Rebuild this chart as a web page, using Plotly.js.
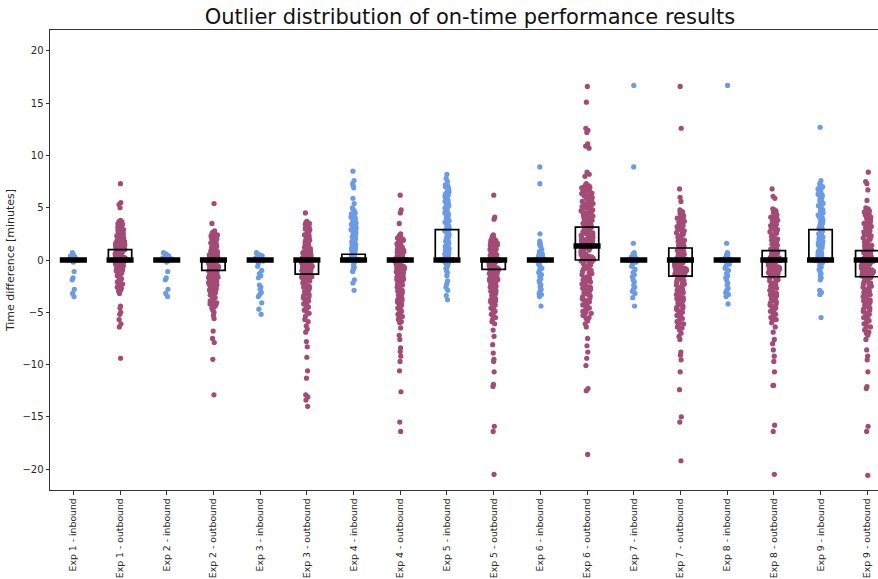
<!DOCTYPE html>
<html>
<head>
<meta charset="utf-8">
<script src="https://cdn.plot.ly/plotly-3.0.1.min.js"></script>
<style>
  html, body { margin: 0; padding: 0; background: #ffffff; overflow: hidden; }
  #chart { width: 878px; height: 579px; }
</style>
</head>
<body>
<div id="chart"></div>
<script>
// Experiment / direction categories along the x axis
const categories = [
  'Exp 1 - inbound', 'Exp 1 - outbound', 'Exp 2 - inbound', 'Exp 2 - outbound',
  'Exp 3 - inbound', 'Exp 3 - outbound', 'Exp 4 - inbound', 'Exp 4 - outbound',
  'Exp 5 - inbound', 'Exp 5 - outbound', 'Exp 6 - inbound', 'Exp 6 - outbound',
  'Exp 7 - inbound', 'Exp 7 - outbound', 'Exp 8 - inbound', 'Exp 8 - outbound',
  'Exp 9 - inbound', 'Exp 9 - outbound'
];

// Time differences (minutes) per category
const exp1In = [0.7, 0.5, 0.4, 0.4, 0.3, 0.3, 0.2, 0.2, 0.1, 0.1, 0, 0, 0, 0, 0, 0, 0, 0, -0.1, -0.2, -1.1, -1.7, -1.9, -2.8, -3.2, -3.5];
const exp1Out = [7.3, 5.5, 5.3, 5.0, 3.8, 3.7, 3.5, 3.4, 3.3, 3.1, 3.0, 2.9, 2.8, 2.7, 2.6, 2.5, 2.5, 2.4, 2.3, 2.2, 2.2, 2.1, 2.0, 1.9, 1.9, 1.8, 1.7, 1.6, 1.6, 1.5, 1.4, 1.3, 1.3, 1.2, 1.1, 1.0, 1.0, 0.9, 0.8, 0.8, 0.7, 0.6, 0.5, 0.5, 0.4, 0.3, 0.2, 0.2, 0.1, 0, 0, 0, 0, 0, 0, 0, 0, 0, 0, 0, 0, 0, 0, 0, 0, 0, 0, 0, 0, -0.1, -0.2, -0.3, -0.3, -0.4, -0.5, -0.6, -0.7, -0.8, -0.9, -1.0, -1.1, -1.2, -1.4, -1.5, -1.7, -1.8, -2.0, -2.1, -2.3, -2.6, -2.8, -3.0, -3.2, -4.4, -4.6, -5.0, -5.2, -5.7, -6.1, -6.4, -9.4,
  3.65, 3.45, 3.25, 3.05, 2.85, 2.65, 2.45, 2.35, 2.25, 2.15, 2.05, 1.95, 1.85, 1.75, 1.65, 1.55, 1.45, 1.35, 1.25, 1.15, 1.05, 0.95, 0.85, 0.75, 0.65, 0.55, 0.45, 0.35, 0.25, 0.15, 0.05, -0.05, -0.15, -0.25, -0.35, -0.45, -0.55, -0.65, -0.75, -0.85, -0.95, -1.05, -1.25, -1.35, -1.65, -1.95, -2.25, -2.45, -2.7, -2.9];
const exp2In = [0.7, 0.6, 0.5, 0.4, 0.3, 0.3, 0.2, 0.1, 0.1, 0, 0, 0, 0, 0, 0, 0, -0.1, -0.2, -1.1, -1.7, -1.9, -2.8, -3.2, -3.5];
const exp2Out = [5.4, 3.5, 2.8, 2.7, 2.6, 2.5, 2.4, 2.3, 2.2, 2.1, 2.0, 1.9, 1.8, 1.7, 1.6, 1.5, 1.4, 1.3, 1.2, 1.1, 1.0, 0.9, 0.8, 0.7, 0.6, 0.5, 0.4, 0.3, 0.2, 0.1, 0, 0, 0, 0, 0, 0, 0, 0, 0, 0, 0, 0, 0, 0, -0.1, -0.2, -0.3, -0.4, -0.5, -0.5, -0.6, -0.7, -0.8, -0.9, -1.0, -1.1, -1.2, -1.3, -1.4, -1.5, -1.6, -1.7, -1.8, -1.9, -2.0, -2.1, -2.2, -2.3, -2.4, -2.5, -2.6, -2.7, -2.8, -2.9, -3.0, -3.2, -3.3, -3.5, -3.6, -3.8, -3.9, -4.1, -4.2, -4.4, -4.6, -4.8, -5.0, -5.3, -5.6, -6.8, -7.5, -7.9, -9.5, -12.9,
  2.65, 2.45, 2.25, 2.05, 1.85, 1.65, 1.45, 1.25, 1.05, 0.85, 0.65, 0.45, 0.25, 0.05, -0.05, -0.15, -0.25, -0.35, -0.45, -0.65, -0.75, -0.85, -0.95, -1.05, -1.15, -1.25, -1.35, -1.45, -1.55, -1.65, -1.75, -1.85, -1.95, -2.05, -2.15, -2.25, -2.35, -2.45, -2.55, -2.65, -2.85, -3.05, -3.15, -3.35, -3.55, -3.75, -3.95, -4.15, -4.35, -4.5];
const exp3In = [0.7, 0.6, 0.5, 0.4, 0.3, 0.2, 0.2, 0.1, 0, 0, 0, 0, 0, 0, -0.1, -0.3, -0.6, -1.0, -1.3, -1.5, -1.7, -2.4, -2.6, -2.8, -3.1, -3.3, -3.5, -4.1, -4.7, -5.2];
const exp3Out = [4.5, 3.7, 3.5, 3.3, 3.1, 3.0, 2.8, 2.7, 2.5, 2.4, 2.3, 2.1, 2.0, 1.9, 1.8, 1.6, 1.5, 1.4, 1.3, 1.2, 1.0, 0.9, 0.8, 0.7, 0.6, 0.5, 0.4, 0.3, 0.2, 0.1, 0, 0, 0, 0, 0, 0, 0, 0, 0, 0, 0, 0, -0.1, -0.2, -0.3, -0.4, -0.5, -0.6, -0.7, -0.8, -0.9, -1.0, -1.1, -1.2, -1.3, -1.4, -1.5, -1.6, -1.7, -1.8, -1.9, -2.0, -2.2, -2.3, -2.4, -2.6, -2.7, -2.8, -3.0, -3.1, -3.3, -3.4, -3.6, -3.8, -3.9, -4.1, -4.3, -4.5, -4.7, -4.9, -5.1, -5.4, -5.7, -5.9, -6.3, -6.6, -6.9, -7.8, -8.3, -9.3, -10.6, -11.3, -12.9, -13.1, -13.4, -14.0,
  3.6, 3.4, 3.2, 2.9, 2.6, 2.2, 1.7, 1.1, 0.65, 0.35, 0.15, 0.05, -0.05, -0.15, -0.25, -0.35, -0.45, -0.55, -0.65, -0.75, -0.85, -0.95, -1.05, -1.15, -1.25, -1.35, -1.45, -1.55, -1.65, -1.75, -1.85, -1.95, -2.1, -2.5, -2.9, -3.2, -3.5, -3.7, -4.0, -4.2, -4.4, -4.6, -4.8];
const exp4In = [8.5, 7.6, 7.3, 7.1, 6.9, 5.9, 5.4, 5.0, 4.8, 4.7, 4.5, 4.5, 4.4, 4.3, 4.3, 4.2, 4.1, 4.0, 4.0, 3.9, 3.8, 3.7, 3.7, 3.6, 3.5, 3.4, 3.4, 3.3, 3.2, 3.1, 3.1, 3.0, 2.9, 2.8, 2.8, 2.7, 2.6, 2.5, 2.5, 2.4, 2.3, 2.2, 2.2, 2.1, 2.0, 1.9, 1.8, 1.7, 1.6, 1.5, 1.4, 1.3, 1.2, 1.1, 1.0, 0.9, 0.8, 0.7, 0.6, 0.5, 0.4, 0.3, 0.2, 0.1,
  4.45, 4.15, 3.85, 3.55, 3.25, 2.95, 2.65, 2.35, 2.05, 1.75, 1.45, 1.15, 0.85, 0.55,
  0, 0, 0, 0, 0, 0, 0, 0, 0, 0, 0, 0, 0, 0, 0, 0, 0, 0, 0, 0, 0, 0, 0, 0, 0, 0, 0, 0, 0, 0, 0, 0, 0, 0, 0, 0, 0, 0, 0, 0, 0, 0, 0, 0, 0, 0, 0, 0, 0, 0, 0, 0, 0, 0, 0, 0, 0, 0, 0, 0, 0, 0, 0, 0, 0, 0, 0, 0, 0, 0, 0, 0, 0, 0, 0, 0, 0, 0, 0, 0, 0, 0, 0, 0, 0, 0, 0, 0, 0, 0, 0, 0, 0, 0, 0, 0, 0, 0, 0, 0, 0, 0, 0, 0, 0, 0, 0, 0, 0, 0, 0, 0, 0, 0, 0, 0, 0, 0, 0, 0, 0, 0, 0, 0, 0, 0, 0, 0, 0, 0, 0, 0, 0, 0, 0, 0, 0, 0, 0, 0, 0, 0, 0, 0, 0, 0, 0, 0, 0, 0, 0, 0, 0, 0, 0, 0, 0, 0, 0, 0, 0, 0, 0, 0, 0, 0, 0, 0, 0, 0, 0, 0, 0, 0, 0, 0, 0, 0, 0, 0, 0, 0, 0, 0, 0, 0, 0, 0, 0, 0, 0, 0, 0, 0, 0, 0, 0, 0, 0, 0, 0, 0, 0, 0, 0, 0, 0, 0, 0, 0, 0, 0, 0, 0,
  -0.3, -0.5, -0.7, -0.9, -1.1, -1.9, -2.2, -2.9];
const exp4Out = [6.2, 4.8, 4.5, 3.5, 2.5, 2.3, 2.2, 2.1, 2.0, 1.9, 1.8, 1.7, 1.5, 1.4, 1.3, 1.2, 1.1, 1.0, 0.9, 0.8, 0.7, 0.6, 0.5, 0.4, 0.3, 0.2, 0.1, 0, 0, 0, 0, 0, 0, 0, 0, 0, 0, 0, 0, 0, 0, 0, 0, 0, 0, 0, 0, 0, 0, 0, 0, 0, 0, 0, 0, 0, 0, 0, 0, 0, 0, 0, 0, 0, 0, 0, 0, 0, 0, 0, 0, 0, 0, 0, 0, 0, 0, 0, 0, 0, 0, 0, 0, 0, 0, 0, 0, 0, 0, 0, 0, 0, 0, 0, 0, 0, 0, 0, 0, 0, 0, 0, 0, 0, 0, 0, 0, 0, 0, 0, -0.1, -0.2, -0.3, -0.4, -0.5, -0.6, -0.7, -0.8, -0.9, -1.0, -1.1, -1.2, -1.3, -1.4, -1.5, -1.6, -1.8, -1.9, -2.0, -2.1, -2.3, -2.4, -2.5, -2.7, -2.8, -3.0, -3.1, -3.3, -3.4, -3.6, -3.8, -3.9, -4.1, -4.3, -4.5, -4.7, -4.9, -5.1, -5.3, -5.5, -5.7, -5.9, -6.0, -6.5, -7.2, -7.6, -8.4, -8.75, -9.2, -9.7, -10.6, -12.6, -15.5, -16.4,
  2.35, 2.15, 1.95, 1.75, 1.55, 1.35, 1.15, 0.95, 0.75, 0.55, 0.35, 0.15, -0.05, -0.15, -0.25, -0.35, -0.45, -0.55, -0.65, -0.75, -0.85, -0.95, -1.05, -1.15, -1.25, -1.35, -1.45, -1.55, -1.7, -1.85, -2.05, -2.2, -2.35, -2.6, -2.9, -3.2, -3.5, -3.7, -4.0, -4.2, -4.4, -4.6, -4.8, -5.0, -5.2, -5.4];
const exp5In = [8.2, 7.8, 7.5, 7.2, 7.1, 7.0, 6.8, 6.7, 6.5, 6.4, 6.2, 6.1, 6.0, 5.9, 5.7, 5.6, 5.5, 5.4, 5.2, 5.1, 5.0, 4.9, 4.8, 4.7, 4.5, 4.4, 4.3, 4.2, 4.1, 4.0, 3.9, 3.8, 3.7, 3.6, 3.5, 3.4, 3.3, 3.2, 3.1, 3.0, 2.9, 2.8, 2.7, 2.6, 2.5, 2.4, 2.3, 2.2, 2.1, 2.0, 1.9, 1.8, 1.7, 1.6, 1.5, 1.4, 1.3, 1.2, 1.1, 1.0, 0.9, 0.8, 0.7, 0.6, 0.5, 0.4, 0.3, 0.2, 0.1,
  7.15, 6.9, 6.6, 6.3, 5.8, 5.3, 4.6, 4.15, 3.75, 3.25, 2.75, 2.25, 1.75, 1.25, 0.75, 0.35,
  0, 0, 0, 0, 0, 0, 0, 0, 0, 0, 0, 0, 0, 0, 0, 0, 0, 0, 0, 0, 0, 0, 0, 0, 0, 0, 0, 0, 0, 0, 0, 0, 0, 0, 0, 0, 0, 0, 0, 0, 0, 0, 0, 0, 0, 0, 0, 0, 0, 0, 0, 0, 0, 0, 0, 0, 0, 0, 0, 0, 0, 0, 0, 0, 0, 0, 0, 0, 0, 0, 0, 0, 0, 0, 0, 0, 0, 0, 0, 0, 0, 0, 0, 0, 0, 0, 0, 0, 0, 0, 0, 0, 0, 0, 0, 0, 0, 0, 0, 0, 0, 0, 0, 0, 0, 0, 0, 0, 0, 0, 0, 0, 0, 0, 0, 0, 0, 0, 0, 0, 0, 0, 0, 0, 0, 0, 0, 0, 0, 0, 0, 0, 0, 0, 0, 0, 0, 0, 0, 0, 0, 0, 0, 0, 0, 0, 0, 0, 0, 0, 0, 0, 0, 0, 0, 0, 0, 0, 0, 0, 0, 0, 0, 0, 0, 0, 0, 0, 0, 0, 0, 0, 0, 0, 0, 0, 0, 0, 0, 0, 0, 0, 0, 0, 0, 0, 0, 0, 0, 0, 0, 0, 0, 0, 0, 0, 0, 0, 0, 0, 0, 0, 0, 0, 0, 0, 0, 0, 0, 0, 0, 0, 0,
  -0.1, -0.2, -0.3, -0.4, -0.6, -0.8, -1.0, -1.2, -1.5, -2.0, -2.3, -2.6, -2.9, -3.4, -3.8];
const exp5Out = [6.2, 4.1, 3.9, 2.4, 2.2, 2.1, 2.0, 1.9, 1.8, 1.7, 1.6, 1.5, 1.4, 1.3, 1.2, 1.1, 1.0, 0.9, 0.8, 0.7, 0.6, 0.5, 0.4, 0.3, 0.2, 0.1, 0, 0, 0, 0, 0, 0, 0, 0, 0, 0, 0, 0, 0, 0, 0, 0, 0, 0, 0, 0, 0, 0, 0, 0, 0, 0, 0, 0, 0, 0, 0, 0, 0, 0, 0, 0, 0, 0, 0, 0, 0, 0, 0, 0, 0, 0, 0, 0, 0, 0, 0, 0, 0, 0, 0, 0, 0, 0, 0, 0, 0, 0, 0, 0, 0, 0, 0, 0, 0, 0, -0.1, -0.2, -0.3, -0.4, -0.5, -0.6, -0.7, -0.8, -0.9, -1.0, -1.1, -1.2, -1.3, -1.4, -1.5, -1.6, -1.7, -1.8, -1.9, -2.0, -2.1, -2.2, -2.4, -2.5, -2.6, -2.7, -2.9, -3.0, -3.1, -3.3, -3.4, -3.5, -3.7, -3.8, -4.0, -4.1, -4.3, -4.4, -4.6, -4.8, -4.9, -5.1, -5.3, -5.5, -5.7, -5.9, -6.1, -6.7, -7.3, -8.1, -8.9, -9.5, -9.7, -10.7, -11.9, -12.1, -15.9, -16.4, -20.5,
  2.3, 2.05, 1.85, 1.65, 1.45, 1.25, 1.05, 0.85, 0.65, 0.45, 0.25, 0.05, -0.05, -0.15, -0.25, -0.35, -0.45, -0.55, -0.65, -0.75, -0.85, -0.95, -1.05, -1.15, -1.25, -1.35, -1.45, -1.55, -1.65, -1.75, -1.85, -1.95, -2.05, -2.3, -2.55, -2.8, -3.2, -3.6, -3.9, -4.2, -4.5, -4.7, -5.0, -5.2];
const exp6In = [8.9, 7.3, 2.5, 1.8, 1.6, 1.5, 1.4, 1.3, 1.0, 0.8, 0.6, 0.5, 0.4, 0.3, 0.2, 0.1, 0, 0, 0, 0, 0, 0, 0, 0, 0, 0, 0, 0, 0, 0, 0, 0, 0, 0, 0, 0, 0, 0, 0, 0, 0, 0, 0, 0, 0, 0, 0, 0, 0, 0, 0, 0, 0, 0, 0, 0, 0, 0, 0, 0, 0, 0, 0, 0, 0, 0, -0.2, -0.4, -0.6, -0.8, -1.0, -1.2, -1.4, -1.6, -1.8, -2.0, -2.2, -2.4, -2.6, -2.8, -3.0, -3.2, -3.3, -3.5, -4.4];
const exp6Out = [16.6, 15.1, 12.6, 12.4, 12.2, 11.1, 10.9, 10.7, 8.4, 8.2, 8.0, 7.3, 7.1, 7.0, 6.9, 6.8, 6.7, 6.6, 6.5, 6.4, 6.3, 6.2, 6.1, 6.0, 5.9, 5.8, 5.7, 5.6, 5.5, 5.4, 5.3, 5.2, 5.1, 5.0, 4.9, 4.8, 4.7, 4.6, 4.5, 4.4, 4.3, 4.2, 4.1, 4.0, 3.9, 3.8, 3.7, 3.6, 3.5, 3.4, 3.3, 3.2, 3.1, 3.0, 2.9, 2.8, 2.7, 2.6, 2.5, 2.4, 2.3, 2.2, 2.1, 2.0, 1.9, 1.8, 1.7, 1.6, 1.5, 1.4, 1.3, 1.2, 1.1, 1.0, 0.9, 0.8, 0.7, 0.6, 0.5, 0.4, 0.3, 0.2, 0.1, 0, 0, 0, 0, 0, 0, -0.1, -0.2, -0.3, -0.5, -0.6, -0.7, -0.9, -1.0, -1.1, -1.3, -1.4, -1.5, -1.7, -1.8, -2.0, -2.1, -2.3, -2.4, -2.6, -2.7, -2.9, -3.0, -3.2, -3.3, -3.5, -3.6, -3.8, -3.9, -4.1, -4.2, -4.4, -4.5, -4.7, -4.9, -5.1, -5.3, -5.5, -5.8, -6.1, -6.4, -7.5, -8.2, -8.8, -9.4, -10.1, -12.3, -12.5, -18.6,
  7.2, 6.95, 6.75, 6.55, 6.35, 6.15, 5.95, 5.75, 5.55, 5.35, 5.15, 4.95, 4.75, 4.55, 4.35, 4.15, 3.95, 3.75, 3.55, 3.35, 3.15, 2.95, 2.75, 2.55, 2.35, 2.15, 1.95, 1.75, 1.55, 1.35, 1.15, 0.95, 0.75, 0.55, 0.35, 0.15, -0.05, -0.4, -0.8, -1.2, -1.6, -1.9, -2.2, -2.5, -2.8, -3.1, -3.4, -3.7, -4.0, -4.3, -4.6, -4.8, -5.0, -5.2, -5.6];
const exp7In = [16.7, 8.9, 1.6, 0.7, 0.6, 0.5, 0.4, 0.3, 0.2, 0.1, 0, 0, 0, 0, 0, 0, 0, 0, 0, 0, 0, 0, 0, 0, 0, 0, 0, 0, 0, 0, 0, 0, 0, 0, 0, 0, 0, 0, 0, 0, 0, 0, 0, 0, -0.2, -0.4, -0.6, -0.9, -1.2, -1.4, -1.6, -1.9, -2.1, -2.4, -2.6, -2.8, -3.0, -3.2, -3.6, -4.4];
const exp7Out = [16.6, 12.6, 6.8, 6.0, 5.6, 4.8, 4.6, 4.5, 4.3, 4.2, 4.0, 3.9, 3.7, 3.6, 3.4, 3.3, 3.1, 3.0, 2.8, 2.7, 2.5, 2.4, 2.2, 2.1, 1.9, 1.8, 1.6, 1.5, 1.4, 1.2, 1.1, 1.0, 0.9, 0.8, 0.7, 0.6, 0.5, 0.4, 0.3, 0.2, 0.1, 0, 0, 0, 0, 0, 0, 0, 0, 0, 0, 0, 0, 0, 0, 0, 0, 0, 0, 0, 0, -0.1, -0.2, -0.3, -0.4, -0.5, -0.6, -0.7, -0.8, -0.9, -1.0, -1.1, -1.2, -1.3, -1.4, -1.5, -1.6, -1.7, -1.9, -2.0, -2.2, -2.3, -2.5, -2.6, -2.8, -2.9, -3.1, -3.2, -3.4, -3.6, -3.7, -3.9, -4.1, -4.3, -4.5, -4.7, -4.9, -5.1, -5.3, -5.5, -5.7, -5.9, -6.1, -6.4, -6.7, -7.0, -7.3, -7.6, -8.8, -9.1, -9.55, -10.7, -12.4, -15.0, -15.5, -19.2,
  4.7, 4.4, 4.1, 3.8, 3.5, 3.2, 2.9, 2.6, 2.3, 2.0, 1.7, 1.3, 0.95, 0.75, 0.55, 0.35, 0.15, -0.05, -0.15, -0.25, -0.35, -0.45, -0.55, -0.65, -0.75, -0.85, -0.95, -1.05, -1.15, -1.25, -1.35, -1.45, -1.55, -1.8, -2.1, -2.4, -2.7, -3.0, -3.3, -3.5, -3.8, -4.0, -4.2, -4.4, -4.6, -4.8, -5.0, -5.2, -5.4, -5.6, -5.8, -6.0, -6.2, -6.5];
const exp8In = [16.7, 1.6, 0.7, 0.6, 0.5, 0.4, 0.3, 0.2, 0.1, 0, 0, 0, 0, 0, 0, 0, 0, 0, 0, 0, 0, 0, 0, 0, 0, 0, 0, 0, 0, 0, 0, 0, 0, 0, 0, 0, 0, 0, 0, 0, -0.2, -0.4, -0.6, -0.8, -1.0, -1.3, -1.5, -1.7, -1.9, -2.2, -2.4, -2.7, -2.9, -3.1, -3.3, -3.5, -4.2];
const exp8Out = [6.8, 6.1, 5.9, 4.9, 4.7, 4.6, 4.4, 4.3, 4.1, 4.0, 3.8, 3.7, 3.5, 3.4, 3.2, 3.1, 2.9, 2.8, 2.6, 2.5, 2.3, 2.2, 2.0, 1.9, 1.7, 1.6, 1.4, 1.3, 1.2, 1.1, 1.0, 0.9, 0.8, 0.7, 0.6, 0.5, 0.4, 0.3, 0.2, 0.1, 0, 0, 0, 0, 0, 0, 0, 0, 0, 0, 0, 0, 0, 0, 0, 0, 0, 0, 0, 0, -0.1, -0.2, -0.3, -0.4, -0.5, -0.6, -0.7, -0.8, -0.9, -1.0, -1.1, -1.2, -1.3, -1.4, -1.5, -1.6, -1.7, -1.8, -2.0, -2.1, -2.3, -2.4, -2.6, -2.7, -2.9, -3.0, -3.2, -3.3, -3.5, -3.6, -3.8, -4.0, -4.2, -4.4, -4.6, -4.8, -5.0, -5.2, -5.4, -5.6, -5.8, -6.0, -6.4, -6.9, -7.6, -8.0, -8.6, -9.2, -9.7, -10.7, -12.0, -12.0, -15.8, -16.4, -20.5,
  4.8, 4.5, 4.2, 3.9, 3.6, 3.3, 3.0, 2.7, 2.4, 2.1, 1.8, 1.5, 1.25, 1.05, 0.85, 0.65, 0.45, 0.25, 0.05, -0.05, -0.15, -0.25, -0.35, -0.45, -0.55, -0.65, -0.75, -0.85, -0.95, -1.05, -1.15, -1.25, -1.35, -1.45, -1.55, -1.65, -1.9, -2.2, -2.5, -2.8, -3.1, -3.4, -3.7, -3.9, -4.1, -4.3, -4.5, -4.7, -4.9, -5.1, -5.3, -5.5, -5.7];
const exp9In = [12.7, 7.6, 7.3, 7.2, 7.1, 7.0, 6.9, 6.8, 6.6, 6.5, 6.3, 6.2, 6.0, 5.9, 5.7, 5.6, 5.4, 5.3, 5.1, 5.0, 4.8, 4.7, 4.5, 4.4, 4.2, 4.1, 3.9, 3.8, 3.6, 3.5, 3.3, 3.2, 3.0, 2.9, 2.7, 2.6, 2.4, 2.3, 2.1, 2.0, 1.8, 1.7, 1.5, 1.4, 1.2, 1.1, 0.9, 0.8, 0.6, 0.5, 0.3, 0.2, 0.1,
  7.05, 6.7, 6.4, 6.1, 5.8, 5.5, 5.2, 4.9, 4.6, 4.3, 4.0, 3.7, 3.4, 3.1, 2.8, 2.5, 2.2, 1.9, 1.6, 1.3, 1.0, 0.7, 0.4,
  0, 0, 0, 0, 0, 0, 0, 0, 0, 0, 0, 0, 0, 0, 0, 0, 0, 0, 0, 0, 0, 0, 0, 0, 0, 0, 0, 0, 0, 0, 0, 0, 0, 0, 0, 0, 0, 0, 0, 0, 0, 0, 0, 0, 0, 0, 0, 0, 0, 0, 0, 0, 0, 0, 0, 0, 0, 0, 0, 0, 0, 0, 0, 0, 0, 0, 0, 0, 0, 0, 0, 0, 0, 0, 0, 0, 0, 0, 0, 0, 0, 0, 0, 0, 0, 0, 0, 0, 0, 0, 0, 0, 0, 0, 0, 0, 0, 0, 0, 0, 0, 0, 0, 0, 0, 0, 0, 0, 0, 0, 0, 0, 0, 0, 0, 0, 0, 0, 0, 0, 0, 0, 0, 0, 0, 0, 0, 0, 0, 0, 0, 0, 0, 0, 0, 0, 0, 0, 0, 0, 0, 0, 0, 0, 0, 0, 0, 0, 0, 0, 0, 0, 0, 0, 0, 0, 0, 0, 0, 0, 0, 0, 0, 0, 0, 0, 0, 0, 0, 0, 0, 0, 0, 0, 0, 0, 0, 0, 0, 0, 0, 0, 0, 0, 0, 0, 0, 0, 0, 0, 0, 0, 0, 0, 0, 0, 0, 0, 0, 0, 0, 0, 0, 0, 0,
  -0.1, -0.3, -0.5, -0.7, -0.9, -1.1, -1.3, -1.5, -1.7, -1.9, -2.9, -3.1, -3.3, -5.5];
const exp9Out = [8.4, 7.5, 7.3, 6.7, 5.7, 5.0, 4.8, 4.7, 4.5, 4.4, 4.2, 4.1, 3.9, 3.8, 3.6, 3.5, 3.3, 3.2, 3.0, 2.9, 2.7, 2.6, 2.4, 2.3, 2.1, 2.0, 1.8, 1.7, 1.5, 1.4, 1.3, 1.2, 1.1, 1.0, 0.9, 0.8, 0.7, 0.6, 0.5, 0.4, 0.3, 0.2, 0.1, 0, 0, 0, 0, 0, 0, 0, 0, 0, 0, 0, 0, 0, 0, 0, 0, 0, 0, 0, 0, -0.1, -0.2, -0.3, -0.4, -0.5, -0.6, -0.7, -0.8, -0.9, -1.0, -1.1, -1.2, -1.3, -1.4, -1.5, -1.6, -1.7, -1.8, -2.0, -2.1, -2.3, -2.4, -2.6, -2.7, -2.9, -3.0, -3.2, -3.3, -3.5, -3.6, -3.8, -4.0, -4.2, -4.4, -4.6, -4.8, -5.0, -5.2, -5.4, -5.6, -5.8, -6.0, -6.3, -6.6, -6.9, -7.2, -7.6, -8.6, -9.2, -9.55, -10.7, -12.1, -12.3, -15.9, -16.4, -20.6,
  4.9, 4.6, 4.3, 4.0, 3.7, 3.4, 3.1, 2.8, 2.5, 2.2, 1.9, 1.6, 1.35, 1.15, 0.95, 0.75, 0.55, 0.35, 0.15, -0.05, -0.15, -0.25, -0.35, -0.45, -0.55, -0.65, -0.75, -0.85, -0.95, -1.05, -1.15, -1.25, -1.35, -1.45, -1.55, -1.65, -1.9, -2.2, -2.5, -2.8, -3.1, -3.4, -3.7, -3.9, -4.1, -4.3, -4.5, -4.7, -4.9, -5.1, -5.3, -5.5, -5.7, -5.9, -6.1, -6.4, -6.7, -7.0];

// Box statistics per category (minutes)
const q1Values =     [0, 0,   0, -1.0, 0, -1.35, 0,    0, 0,   -0.9, 0, 0,    0, -1.55, 0, -1.6, 0,   -1.6];
const medianValues = [0, 0,   0,  0,   0,  0,    0,    0, 0,    0,   0, 1.35, 0,  0,    0,  0,   0,    0];
const q3Values =     [0, 1.0, 0,  0,   0,  0,    0.55, 0, 2.9,  0,   0, 3.15, 0,  1.15, 0,  0.9, 2.9,  0.9];

const seriesValues = [exp1In, exp1Out, exp2In, exp2Out, exp3In, exp3Out, exp4In, exp4Out,
  exp5In, exp5Out, exp6In, exp6Out, exp7In, exp7Out, exp8In, exp8Out, exp9In, exp9Out];

const INBOUND_COLOR = '#6a9be9';
const OUTBOUND_COLOR = '#a34b76';

const traces = [];

// Jittered strip of individual results per category
seriesValues.forEach((vals, i) => {
  const cat = categories[i];
  traces.push({
    type: 'box',
    name: cat,
    x: vals.map(() => cat),
    y: vals,
    boxpoints: 'all',
    jitter: 1,
    pointpos: 0,
    width: 0.27,
    whiskerwidth: 0,
    fillcolor: 'rgba(0,0,0,0)',
    line: { width: 0, color: 'rgba(0,0,0,0)' },
    marker: {
      color: cat.indexOf('inbound') >= 0 ? INBOUND_COLOR : OUTBOUND_COLOR,
      size: 5.2,
      line: { width: 0 }
    },
    hoverinfo: 'y',
    showlegend: false
  });
});

// Interquartile boxes
traces.push({
  type: 'box',
  x: categories,
  q1: q1Values,
  median: medianValues,
  q3: q3Values,
  lowerfence: q1Values,
  upperfence: q3Values,
  width: 0.5,
  whiskerwidth: 0,
  boxpoints: false,
  fillcolor: 'rgba(0,0,0,0)',
  line: { color: '#000000', width: 1.7 },
  hoverinfo: 'skip',
  showlegend: false
});

// Thick median bars
traces.push({
  type: 'box',
  x: categories,
  q1: medianValues,
  median: medianValues,
  q3: medianValues,
  lowerfence: medianValues,
  upperfence: medianValues,
  width: 0.58,
  whiskerwidth: 0,
  boxpoints: false,
  fillcolor: 'rgba(0,0,0,0)',
  line: { color: '#000000', width: 5.5 },
  hoverinfo: 'skip',
  showlegend: false
});

const axisColor = '#333333';

const layout = {
  width: 878,
  height: 579,
  margin: { l: 50, r: 0, t: 30, b: 89 },
  paper_bgcolor: '#ffffff',
  plot_bgcolor: '#ffffff',
  font: { family: 'DejaVu Sans', color: '#262626', size: 10 },
  boxmode: 'overlay',
  showlegend: false,
  title: {
    text: 'Outlier distribution of on-time performance results',
    font: { family: 'DejaVu Sans', size: 21, color: '#111111' },
    x: 470 / 878,
    xanchor: 'center',
    y: 1 - 17 / 579,
    yanchor: 'middle'
  },
  xaxis: {
    type: 'category',
    categoryorder: 'array',
    categoryarray: categories,
    range: [-0.5, 17.23],
    showline: true,
    linecolor: axisColor,
    linewidth: 1,
    mirror: true,
    ticks: 'outside',
    ticklen: 3.5,
    tickwidth: 0.8,
    tickcolor: axisColor,
    tickangle: -90,
    tickfont: { size: 9.3, color: '#262626' },
    showgrid: false,
    zeroline: false,
    fixedrange: true
  },
  yaxis: {
    range: [-22, 22],
    tickvals: [-20, -15, -10, -5, 0, 5, 10, 15, 20],
    showline: true,
    linecolor: axisColor,
    linewidth: 1,
    mirror: false,
    ticks: 'outside',
    ticklen: 3.5,
    tickwidth: 0.8,
    tickcolor: axisColor,
    tickfont: { size: 10, color: '#262626' },
    showgrid: false,
    zeroline: false,
    fixedrange: true,
    title: {
      text: 'Time difference [minutes]',
      font: { size: 11, color: '#262626' },
      standoff: 5
    }
  }
};

Plotly.newPlot('chart', traces, layout, { displayModeBar: false, responsive: false });
</script>
</body>
</html>
